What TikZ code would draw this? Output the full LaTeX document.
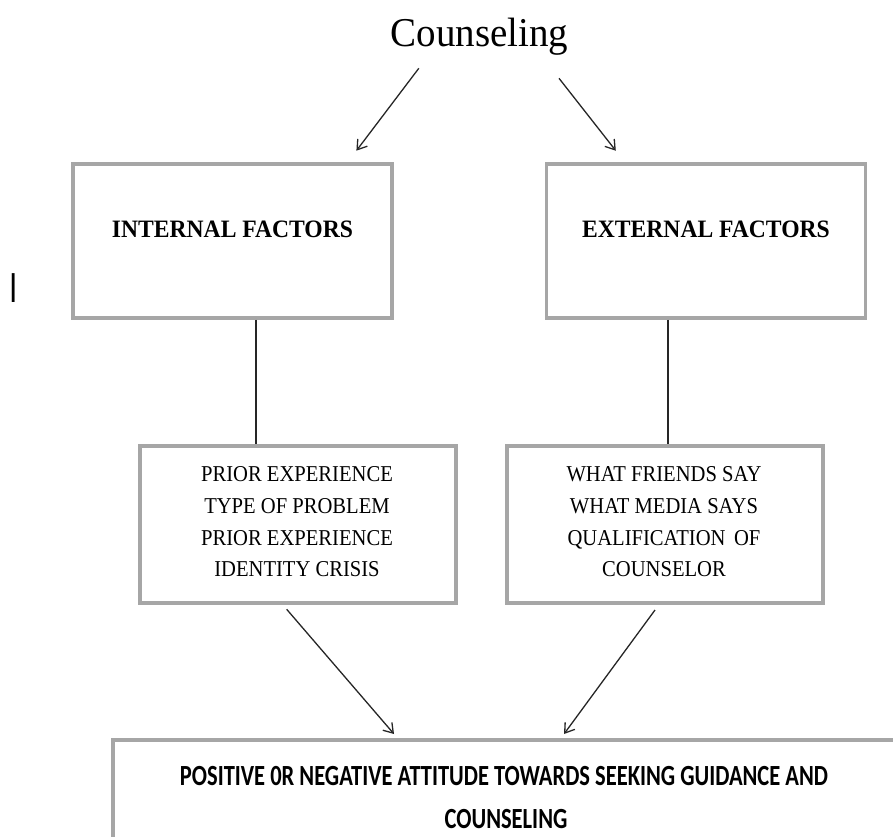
\documentclass[tikz,border=0pt]{standalone}
\usepackage{fontspec}
\usetikzlibrary{arrows.meta}
\newfontfamily\tmsfont{Liberation Serif}
\newfontfamily\calfont{Carlito}
\newfontfamily\arifont{Liberation Sans}
\newcommand{\tallbox}[2]{\scalebox{1}[#1]{#2}}
\begin{document}
\begin{tikzpicture}[x=1pt,y=-1pt,
  boxstyle/.style={draw=gray!70, line width=3.5pt, inner sep=0pt, fill=white},
  conn/.style={draw=black!85, line width=1.3pt},
  arr/.style={conn, -{Straight Barb[length=9pt,width=12pt,line width=1.3pt]}},
  ttl/.style={font=\tmsfont\fontsize{39}{44}\selectfont, anchor=base, inner sep=0pt},
  hd/.style={font=\tmsfont\bfseries\fontsize{23.6}{28}\selectfont, anchor=base, inner sep=0pt},
  itm/.style={font=\tmsfont\fontsize{20.6}{24}\selectfont, anchor=base, inner sep=0pt},
  btm/.style={font=\calfont\bfseries\fontsize{22.5}{26}\selectfont, anchor=base, inner sep=0pt},
]
\useasboundingbox (0,0) rectangle (893,836);
\clip (0,0) rectangle (893,836);

% title
\node[ttl] (title) at (479.5,46.7) {\tallbox{1.05}{Counseling}};

% top boxes
\node[boxstyle, minimum width=319pt, minimum height=154pt] (intbox) at (232.5,241) {};
\node[boxstyle, minimum width=319pt, minimum height=154pt] (extbox) at (706,241) {};
\node[hd] (inttxt) at (232.5,237.3) {\tallbox{1.06}{INTERNAL FACTORS}};
\node[hd] (exttxt) at (706,237.3) {\tallbox{1.06}{EXTERNAL FACTORS}};

% side mark
\node[font=\arifont\fontsize{30}{34}\selectfont, anchor=base, inner sep=0pt] (mark) at (14,302) {\tallbox{1.4}{I}};

% middle boxes
\node[boxstyle, minimum width=316pt, minimum height=157pt] (lbox) at (298,524.5) {};
\node[boxstyle, minimum width=316pt, minimum height=157pt] (rbox) at (665,524.5) {};

\node[itm] (l1) at (297,481.7) {\tallbox{1.1}{PRIOR EXPERIENCE}};
\node[itm] (l2) at (297,513.3) {\tallbox{1.1}{TYPE OF PROBLEM}};
\node[itm] (l3) at (297,545.0) {\tallbox{1.1}{PRIOR EXPERIENCE}};
\node[itm] (l4) at (297,576.7) {\tallbox{1.1}{IDENTITY CRISIS}};

\node[itm] (r1) at (664,481.7) {\tallbox{1.1}{WHAT FRIENDS SAY}};
\node[itm] (r2) at (664,513.3) {\tallbox{1.1}{WHAT MEDIA SAYS}};
\node[itm] (r3) at (664,545.0) {\tallbox{1.1}{QUALIFICATION\, OF}};
\node[itm] (r4) at (664,576.7) {\tallbox{1.1}{COUNSELOR}};

% bottom box (runs past the right and bottom edges)
\node[boxstyle, minimum width=800pt, minimum height=130pt] (bbox) at (513,805) {};
\node[btm] (b1) at (504,785) {\tallbox{1.3}{POSITIVE 0R NEGATIVE ATTITUDE TOWARDS SEEKING GUIDANCE AND}};
\node[btm] (b2) at (506,828) {\tallbox{1.3}{COUNSELING}};

% connector coordinates
\coordinate (t1s) at (418.8,68.3);
\coordinate (t1e) at (356.4,150.7);
\coordinate (t2s) at (559,78.3);
\coordinate (t2e) at (615.8,150.7);
\coordinate (vl) at (256,0);
\coordinate (vr) at (668,0);
\coordinate (b1s) at (286.7,609.3);
\coordinate (b1e) at (394,734);
\coordinate (b2s) at (655,610);
\coordinate (b2e) at (564,734);

\draw[arr] (t1s) -- (t1e);
\draw[arr] (t2s) -- (t2e);
\draw[conn] (intbox.south -| vl) -- (lbox.north -| vl);
\draw[conn] (extbox.south -| vr) -- (rbox.north -| vr);
\draw[arr] (b1s) -- (b1e);
\draw[arr] (b2s) -- (b2e);
\end{tikzpicture}
\end{document}
